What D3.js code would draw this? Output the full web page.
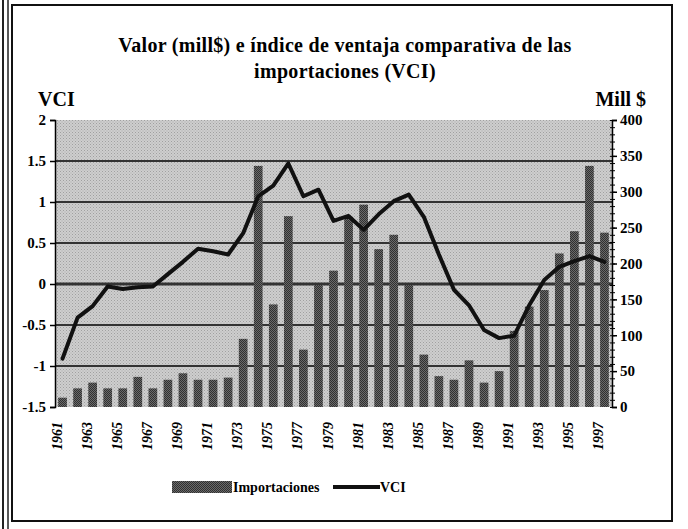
<!DOCTYPE html>
<html><head><meta charset="utf-8">
<script src="https://cdn.jsdelivr.net/npm/d3@7"></script>
<style>
html,body{margin:0;padding:0;background:#fff;}
svg text{font-family:"Liberation Serif","Times New Roman",serif;font-weight:bold;fill:#000;}
</style></head>
<body><svg id="c" width="688" height="529"></svg>
<script>
const years = d3.range(1961, 1998).map(String);
const importaciones = [13,26,34,26,26,42,26,38,47,38,38,41,95,336,143,266,80,170,190,265,282,220,240,170,73,43,38,65,34,50,106,140,163,214,245,336,243];
const vci = [-0.91,-0.41,-0.27,-0.03,-0.06,-0.04,-0.03,0.12,0.27,0.43,0.40,0.36,0.62,1.07,1.20,1.47,1.07,1.15,0.77,0.83,0.66,0.85,1.01,1.09,0.82,0.36,-0.07,-0.26,-0.56,-0.66,-0.63,-0.26,0.05,0.21,0.28,0.34,0.27];
const leftTicks = [-1.5,-1,-0.5,0,0.5,1,1.5,2];
const rightTicks = [0,50,100,150,200,250,300,350,400];
const xLabels = years.filter((y,i)=>i%2===0);
const titleLines = ["Valor (mill$) e índice de ventaja comparativa de las","importaciones (VCI)"];

const svg = d3.select("#c");
const L = 55, R = 612, T = 120, B = 407;

// frames
svg.append("rect").attr("x",12).attr("y",5).attr("width",660).attr("height",516)
  .attr("fill","none").attr("stroke","#111").attr("stroke-width",2);
svg.append("line").attr("x1",3).attr("x2",3).attr("y1",0).attr("y2",529).attr("stroke","#222").attr("stroke-width",2);
svg.append("line").attr("x1",8).attr("x2",8).attr("y1",0).attr("y2",529).attr("stroke","#222").attr("stroke-width",1.5);

const defs = svg.append("defs");
const bg = defs.append("pattern").attr("id","bgp").attr("width",3).attr("height",3).attr("patternUnits","userSpaceOnUse");
bg.append("rect").attr("width",3).attr("height",3).attr("fill","#cecece");
bg.append("rect").attr("width",1).attr("height",1).attr("fill","#a0a0a0");
bg.append("rect").attr("x",1.5).attr("y",1.5).attr("width",1).attr("height",1).attr("fill","#aaaaaa");
const bp = defs.append("pattern").attr("id","barp").attr("width",2).attr("height",2).attr("patternUnits","userSpaceOnUse");
bp.append("rect").attr("width",2).attr("height",2).attr("fill","#6a6a6a");
bp.append("rect").attr("width",1).attr("height",1).attr("fill","#303030");
bp.append("rect").attr("x",1).attr("y",1).attr("width",1).attr("height",1).attr("fill","#303030");

const x = d3.scaleBand().domain(years).range([L,R]).paddingInner(0.42).paddingOuter(0.21);
const yL = d3.scaleLinear().domain([-1.5,2]).range([B,T]);
const yR = d3.scaleLinear().domain([0,400]).range([B,T]);

svg.append("rect").attr("x",L).attr("y",T).attr("width",R-L).attr("height",B-T).attr("fill","url(#bgp)");

// gridlines
svg.append("g").selectAll("line").data(leftTicks.filter(v=>v>-1.5&&v<2)).join("line")
  .attr("x1",L).attr("x2",R).attr("y1",d=>yL(d)).attr("y2",d=>yL(d))
  .attr("stroke","#333").attr("stroke-width",d=>d===0?3:2);

// bars
svg.append("g").selectAll("rect").data(importaciones).join("rect")
  .attr("x",(d,i)=>x(years[i])).attr("width",x.bandwidth())
  .attr("y",d=>yR(d)).attr("height",d=>B-yR(d)).attr("fill","url(#barp)");

// line
const line = d3.line().x((d,i)=>x(years[i])+x.bandwidth()/2).y(d=>yL(d));
svg.append("path").datum(vci).attr("d",line).attr("fill","none")
  .attr("stroke","#111").attr("stroke-width",4).attr("stroke-linejoin","round").attr("stroke-linecap","round");

// axes
const axL = d3.axisLeft(yL).tickValues(leftTicks).tickSize(5).tickFormat(d=>String(d));
const gL = svg.append("g").attr("transform",`translate(${L},0)`).call(axL);
gL.select(".domain").attr("stroke","#000").attr("stroke-width",1.5);
gL.selectAll(".tick line").attr("stroke","#000").attr("stroke-width",1.5);
gL.selectAll("text").attr("font-size",15).attr("x",-9).style("font-family","Liberation Serif").style("font-weight","bold");

const gRm = svg.append("g").attr("transform",`translate(${R},0)`)
  .call(d3.axisRight(yR).tickValues(d3.range(0,401,10)).tickSize(3).tickFormat(""));
gRm.select(".domain").remove();
gRm.selectAll(".tick line").attr("stroke","#000").attr("x1",-2).attr("stroke-width",1);
const axR = d3.axisRight(yR).tickValues(rightTicks).tickSize(5);
const gR = svg.append("g").attr("transform",`translate(${R},0)`).call(axR);
gR.select(".domain").attr("stroke","#000").attr("stroke-width",1.5);
gR.selectAll(".tick line").attr("stroke","#000").attr("stroke-width",1.5);
gR.selectAll("text").attr("font-size",15).attr("x",8).style("font-family","Liberation Serif").style("font-weight","bold");

// x labels
svg.append("g").selectAll("text").data(xLabels).join("text")
  .attr("transform",d=>`translate(${x(d)+x.bandwidth()/2-1},${422}) rotate(-90)`)
  .attr("text-anchor","end").attr("font-size",14).attr("font-style","italic").text(d=>d);

// titles
svg.append("g").selectAll("text").data(titleLines).join("text")
  .attr("x",345).attr("y",(d,i)=>52+i*26).attr("text-anchor","middle").attr("font-size",20)
  .attr("letter-spacing",0.3).text(d=>d);
svg.append("text").attr("x",38).attr("y",106).attr("font-size",20).text("VCI");
svg.append("text").attr("x",646).attr("y",106).attr("text-anchor","end").attr("font-size",20).text("Mill $");

// legend
svg.append("rect").attr("x",172).attr("y",481).attr("width",60).attr("height",12).attr("fill","url(#barp)");
svg.append("text").attr("x",233).attr("y",492).attr("font-size",14).text("Importaciones");
svg.append("line").attr("x1",333).attr("x2",380).attr("y1",487).attr("y2",487).attr("stroke","#111").attr("stroke-width",4);
svg.append("text").attr("x",380).attr("y",492).attr("font-size",14).text("VCI");
</script></body></html>
